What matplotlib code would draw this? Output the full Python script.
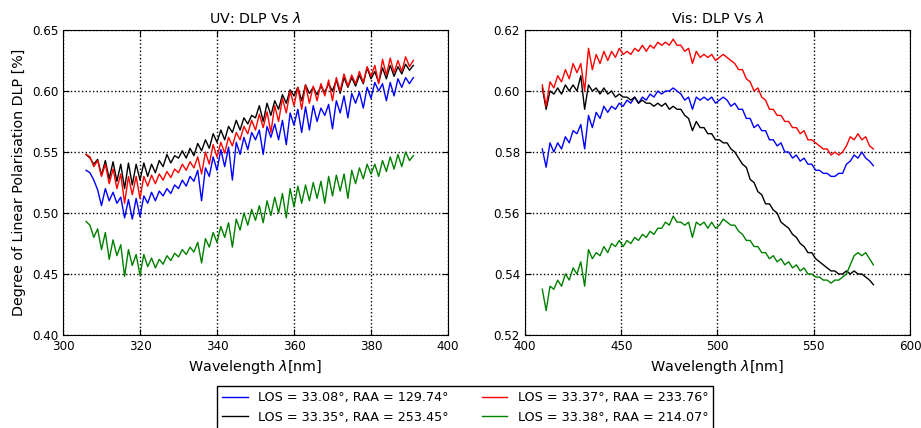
import numpy as np
import matplotlib
matplotlib.use('Agg')
import matplotlib.pyplot as plt

plt.rcParams['font.family'] = ['DejaVu Sans']
plt.rcParams['font.size'] = 10
plt.rcParams['xtick.labelsize'] = 8.6
plt.rcParams['ytick.labelsize'] = 8.6
plt.rcParams['xtick.direction'] = 'in'
plt.rcParams['ytick.direction'] = 'in'
plt.rcParams['xtick.top'] = True
plt.rcParams['ytick.right'] = True
plt.rcParams['xtick.major.size'] = 4
plt.rcParams['ytick.major.size'] = 4
plt.rcParams['mathtext.fontset'] = 'dejavusans'

labels = ['LOS = 33.08°, RAA = 129.74°', 'LOS = 33.35°, RAA = 253.45°',
          'LOS = 33.37°, RAA = 233.76°', 'LOS = 33.38°, RAA = 214.07°']
colors = ['b', 'k', 'r', 'g']

# UV channel, 306-391 nm in 1 nm steps
uv_wl = np.arange(306, 392)
uv_blue = [0.535, 0.533, 0.527, 0.519, 0.506, 0.520, 0.510, 0.517, 0.508, 0.513,
           0.496, 0.511, 0.495, 0.512, 0.497, 0.514, 0.508, 0.517, 0.510, 0.518,
           0.514, 0.520, 0.516, 0.523, 0.520, 0.527, 0.522, 0.530, 0.526, 0.535,
           0.510, 0.537, 0.530, 0.546, 0.535, 0.552, 0.538, 0.554, 0.527, 0.558,
           0.548, 0.562, 0.552, 0.566, 0.560, 0.568, 0.548, 0.571, 0.562, 0.573,
           0.560, 0.576, 0.556, 0.582, 0.572, 0.585, 0.566, 0.587, 0.568, 0.588,
           0.575, 0.586, 0.580, 0.589, 0.569, 0.592, 0.582, 0.596, 0.578, 0.598,
           0.590, 0.599, 0.586, 0.603, 0.594, 0.607, 0.600, 0.606, 0.592, 0.607,
           0.596, 0.610, 0.603, 0.611, 0.606, 0.611]
uv_black = [0.548, 0.545, 0.540, 0.544, 0.531, 0.543, 0.528, 0.542, 0.526, 0.540,
            0.520, 0.541, 0.523, 0.540, 0.527, 0.541, 0.530, 0.540, 0.533, 0.543,
            0.538, 0.548, 0.541, 0.547, 0.545, 0.551, 0.545, 0.553, 0.547, 0.557,
            0.551, 0.560, 0.553, 0.565, 0.558, 0.568, 0.560, 0.571, 0.566, 0.576,
            0.568, 0.578, 0.573, 0.580, 0.578, 0.588, 0.575, 0.590, 0.580, 0.592,
            0.585, 0.597, 0.590, 0.601, 0.596, 0.603, 0.592, 0.605, 0.598, 0.603,
            0.597, 0.604, 0.599, 0.606, 0.600, 0.609, 0.598, 0.611, 0.603, 0.611,
            0.604, 0.613, 0.606, 0.619, 0.610, 0.616, 0.607, 0.619, 0.610, 0.621,
            0.612, 0.620, 0.614, 0.622, 0.617, 0.621]
uv_red = [0.548, 0.546, 0.538, 0.543, 0.530, 0.540, 0.524, 0.536, 0.520, 0.532,
          0.508, 0.530, 0.515, 0.530, 0.512, 0.530, 0.522, 0.531, 0.524, 0.532,
          0.527, 0.534, 0.529, 0.536, 0.533, 0.540, 0.535, 0.542, 0.537, 0.546,
          0.532, 0.550, 0.540, 0.556, 0.546, 0.558, 0.549, 0.562, 0.555, 0.566,
          0.560, 0.571, 0.565, 0.576, 0.568, 0.581, 0.570, 0.583, 0.566, 0.588,
          0.575, 0.594, 0.582, 0.600, 0.588, 0.603, 0.585, 0.605, 0.590, 0.604,
          0.592, 0.606, 0.596, 0.609, 0.592, 0.611, 0.600, 0.614, 0.604, 0.613,
          0.606, 0.616, 0.607, 0.620, 0.612, 0.621, 0.606, 0.626, 0.613, 0.627,
          0.615, 0.625, 0.616, 0.628, 0.620, 0.625]
uv_green = [0.493, 0.490, 0.480, 0.487, 0.470, 0.484, 0.462, 0.478, 0.465, 0.474,
            0.448, 0.470, 0.457, 0.466, 0.449, 0.466, 0.456, 0.463, 0.455, 0.462,
            0.458, 0.465, 0.461, 0.467, 0.464, 0.470, 0.466, 0.472, 0.468, 0.476,
            0.459, 0.479, 0.472, 0.484, 0.476, 0.489, 0.480, 0.492, 0.472, 0.495,
            0.486, 0.500, 0.490, 0.503, 0.494, 0.506, 0.492, 0.510, 0.498, 0.513,
            0.500, 0.516, 0.496, 0.520, 0.505, 0.522, 0.508, 0.523, 0.510, 0.525,
            0.512, 0.526, 0.508, 0.530, 0.514, 0.531, 0.518, 0.532, 0.512, 0.535,
            0.524, 0.537, 0.528, 0.540, 0.532, 0.540, 0.530, 0.543, 0.534, 0.546,
            0.536, 0.548, 0.538, 0.550, 0.543, 0.547]

# Vis channel, 409-581 nm in 2 nm steps
vis_wl = np.arange(409, 582, 2)
vis_blue = [0.581, 0.575, 0.583, 0.580, 0.583, 0.581, 0.585, 0.583, 0.587, 0.586,
            0.589, 0.581, 0.592, 0.588, 0.593, 0.591, 0.595, 0.593, 0.595, 0.594,
            0.596, 0.595, 0.597, 0.596, 0.598, 0.596, 0.598, 0.597, 0.599, 0.598,
            0.600, 0.599, 0.600, 0.600, 0.601, 0.600, 0.599, 0.597, 0.598, 0.594,
            0.598, 0.597, 0.598, 0.597, 0.598, 0.596, 0.597, 0.598, 0.597, 0.595,
            0.596, 0.594, 0.594, 0.591, 0.591, 0.588, 0.589, 0.587, 0.587, 0.584,
            0.584, 0.582, 0.583, 0.580, 0.580, 0.578, 0.579, 0.577, 0.578, 0.576,
            0.576, 0.574, 0.574, 0.573, 0.573, 0.572, 0.572, 0.573, 0.573, 0.576,
            0.577, 0.579, 0.578, 0.580, 0.578, 0.577, 0.5755]
vis_black = [0.601, 0.594, 0.600, 0.599, 0.601, 0.599, 0.602, 0.600, 0.602, 0.600,
             0.605, 0.594, 0.602, 0.600, 0.601, 0.599, 0.601, 0.599, 0.600, 0.598,
             0.599, 0.598, 0.598, 0.597, 0.598, 0.596, 0.597, 0.596, 0.596, 0.595,
             0.596, 0.595, 0.596, 0.594, 0.595, 0.594, 0.594, 0.592, 0.591, 0.587,
             0.590, 0.588, 0.588, 0.586, 0.586, 0.584, 0.584, 0.583, 0.583, 0.581,
             0.580, 0.578, 0.576, 0.575, 0.571, 0.570, 0.567, 0.566, 0.563, 0.563,
             0.561, 0.560, 0.557, 0.556, 0.555, 0.553, 0.552, 0.550, 0.549, 0.547,
             0.547, 0.545, 0.544, 0.543, 0.542, 0.541, 0.541, 0.540, 0.540, 0.541,
             0.540, 0.541, 0.540, 0.540, 0.539, 0.538, 0.5365]
vis_red = [0.602, 0.595, 0.603, 0.601, 0.605, 0.603, 0.607, 0.604, 0.609, 0.606,
           0.609, 0.600, 0.614, 0.607, 0.612, 0.609, 0.613, 0.610, 0.613, 0.611,
           0.614, 0.612, 0.613, 0.612, 0.614, 0.613, 0.615, 0.613, 0.615, 0.614,
           0.616, 0.615, 0.616, 0.615, 0.617, 0.615, 0.615, 0.613, 0.614, 0.609,
           0.613, 0.611, 0.612, 0.611, 0.612, 0.610, 0.611, 0.612, 0.611, 0.610,
           0.609, 0.607, 0.607, 0.604, 0.603, 0.600, 0.601, 0.598, 0.597, 0.594,
           0.594, 0.592, 0.592, 0.590, 0.590, 0.588, 0.588, 0.586, 0.587, 0.584,
           0.584, 0.583, 0.582, 0.581, 0.581, 0.579, 0.580, 0.579, 0.580, 0.582,
           0.585, 0.584, 0.586, 0.584, 0.585, 0.582, 0.581]
vis_green = [0.535, 0.528, 0.536, 0.535, 0.538, 0.536, 0.540, 0.538, 0.542, 0.540,
             0.544, 0.536, 0.548, 0.545, 0.547, 0.546, 0.549, 0.547, 0.550, 0.549,
             0.551, 0.549, 0.551, 0.550, 0.552, 0.551, 0.553, 0.552, 0.554, 0.553,
             0.555, 0.555, 0.557, 0.556, 0.559, 0.557, 0.557, 0.556, 0.557, 0.552,
             0.557, 0.556, 0.557, 0.555, 0.557, 0.555, 0.556, 0.558, 0.557, 0.556,
             0.556, 0.554, 0.553, 0.551, 0.551, 0.549, 0.549, 0.547, 0.547, 0.545,
             0.546, 0.544, 0.545, 0.543, 0.544, 0.542, 0.543, 0.541, 0.542, 0.540,
             0.540, 0.539, 0.539, 0.538, 0.538, 0.537, 0.538, 0.538, 0.539, 0.540,
             0.543, 0.546, 0.547, 0.546, 0.547, 0.545, 0.543]

fig = plt.figure(figsize=(9.21, 4.28), dpi=100)
ax1 = fig.add_axes([0.0684, 0.2173, 0.418, 0.7126])
ax2 = fig.add_axes([0.570, 0.2173, 0.418, 0.7126])

uv = [uv_blue, uv_black, uv_red, uv_green]
vis = [vis_blue, vis_black, vis_red, vis_green]
lines = []
for y, c, lab in zip(uv, colors, labels):
    l, = ax1.plot(uv_wl, y, color=c, lw=1.0, label=lab)
    lines.append(l)
for y, c in zip(vis, colors):
    ax2.plot(vis_wl, y, color=c, lw=1.0)

ax1.set_xlim(300, 400)
ax1.set_ylim(0.40, 0.65)
ax1.set_xticks(np.arange(300, 401, 20))
ax1.set_yticks(np.arange(0.40, 0.651, 0.05))
ax1.set_title(r'UV: DLP Vs $\lambda$', fontsize=10.3, pad=5)
ax1.set_xlabel(r'Wavelength $\lambda$[nm]', fontsize=10.4)
ax1.set_ylabel('Degree of Linear Polarisation DLP [%]', fontsize=10.3)

ax2.set_xlim(400, 600)
ax2.set_ylim(0.52, 0.62)
ax2.set_xticks(np.arange(400, 601, 50))
ax2.set_yticks(np.arange(0.52, 0.621, 0.02))
ax2.set_title(r'Vis: DLP Vs $\lambda$', fontsize=10.3, pad=5)
ax2.set_xlabel(r'Wavelength $\lambda$[nm]', fontsize=10.4)

for ax in (ax1, ax2):
    ax.grid(True, color='k', linestyle=':', linewidth=1.0)
    ax.yaxis.set_major_formatter(matplotlib.ticker.FormatStrFormatter('%.2f'))

leg = fig.legend(handles=lines, loc='upper left', ncol=2, fontsize=9.2,
                 bbox_to_anchor=(217 / 921, 1 - 386 / 428),
                 fancybox=False, framealpha=1, edgecolor='k',
                 borderaxespad=0, columnspacing=2.6, handlelength=2.0)
leg.get_frame().set_linewidth(1.0)

fig.savefig('out.png', dpi=100)
